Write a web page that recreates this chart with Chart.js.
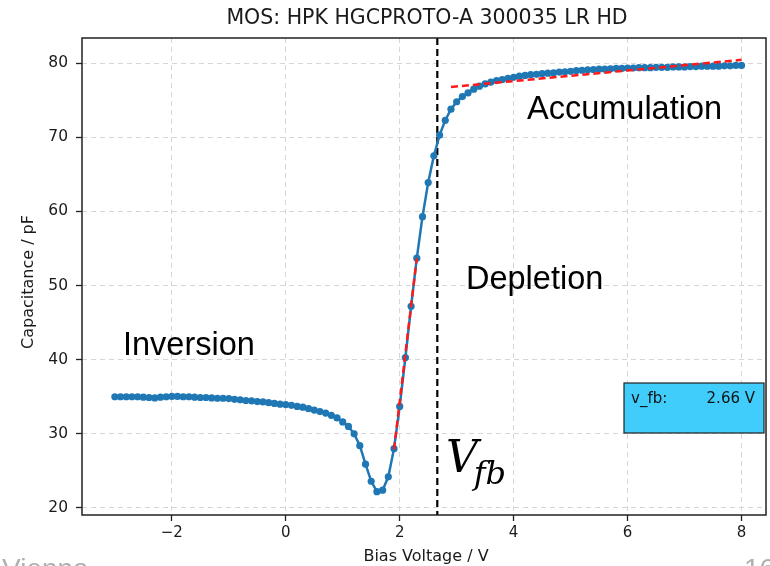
<!DOCTYPE html>
<html>
<head>
<meta charset="utf-8">
<script src="https://cdn.jsdelivr.net/npm/chart.js@4/dist/chart.umd.min.js"></script>
<style>
html, body { margin: 0; padding: 0; background: #fff; overflow: hidden; }
#wrap { width: 770px; height: 566px; }
</style>
</head>
<body>
<div id="wrap"><canvas id="myChart" width="770" height="566"></canvas></div>
<script>
// bias voltage (V) and measured capacitance (pF)
var voltage = [
  -3.0, -2.9, -2.8, -2.7, -2.6, -2.5, -2.4, -2.3, -2.2, -2.1,
  -2.0, -1.9, -1.8, -1.7, -1.6, -1.5, -1.4, -1.3, -1.2, -1.1,
  -1.0, -0.9, -0.8, -0.7, -0.6, -0.5, -0.4, -0.3, -0.2, -0.1,
  0.0, 0.1, 0.2, 0.3, 0.4, 0.5, 0.6, 0.7, 0.8, 0.9,
  1.0, 1.1, 1.2, 1.3, 1.4, 1.5, 1.6, 1.7, 1.8, 1.9,
  2.0, 2.1, 2.2, 2.3, 2.4, 2.5, 2.6, 2.7, 2.8, 2.9,
  3.0, 3.1, 3.2, 3.3, 3.4, 3.5, 3.6, 3.7, 3.8, 3.9,
  4.0, 4.1, 4.2, 4.3, 4.4, 4.5, 4.6, 4.7, 4.8, 4.9,
  5.0, 5.1, 5.2, 5.3, 5.4, 5.5, 5.6, 5.7, 5.8, 5.9,
  6.0, 6.1, 6.2, 6.3, 6.4, 6.5, 6.6, 6.7, 6.8, 6.9,
  7.0, 7.1, 7.2, 7.3, 7.4, 7.5, 7.6, 7.7, 7.8, 7.9,
  8.0
];
var capacitance = [
  35.0, 35.0, 35.0, 35.0, 35.0, 34.95, 34.9, 34.85, 34.95, 35.0,
  35.05, 35.05, 35.0, 35.0, 34.95, 34.9, 34.9, 34.85, 34.8, 34.8,
  34.75, 34.65, 34.6, 34.5, 34.45, 34.35, 34.3, 34.2, 34.1, 34.0,
  33.95, 33.85, 33.7, 33.6, 33.4, 33.2, 33.0, 32.8, 32.5, 32.15,
  31.6, 31.0, 30.0, 28.4, 25.9, 23.6, 22.2, 22.4, 24.2, 28.0,
  33.7, 40.3, 47.2, 53.7, 59.3, 63.9, 67.5, 70.3, 72.3, 73.8,
  74.8, 75.5, 76.0, 76.5, 76.9, 77.2, 77.45, 77.65, 77.8, 77.95,
  78.1, 78.25, 78.35, 78.45, 78.5, 78.6, 78.65, 78.7, 78.8, 78.85,
  78.9, 79.0, 79.05, 79.1, 79.15, 79.2, 79.2, 79.25, 79.3, 79.3,
  79.35, 79.35, 79.4, 79.4, 79.4, 79.45, 79.45, 79.45, 79.5, 79.5,
  79.5, 79.55, 79.55, 79.6, 79.6, 79.6, 79.6, 79.65, 79.65, 79.7,
  79.7
];
// linear fits (depletion slope and accumulation plateau)
var depFitV = [1.9, 2.3];
var depFitC = [27.9, 53.7];
var accFitV = [2.9, 8.0];
var accFitC = [76.8, 80.45];
var vfb = 2.66;
var xTicks = [-2, 0, 2, 4, 6, 8];
var yTicks = [20, 30, 40, 50, 60, 70, 80];

function pts(xs, ys) {
  return xs.map(function(v, i) { return { x: v, y: ys[i] }; });
}
function minus(v) {
  return v < 0 ? '\u2212' + Math.abs(v) : String(v);
}

var overlay = {
  id: 'overlay',
  beforeDatasetsDraw: function(chart) {
    var ctx = chart.ctx, a = chart.chartArea;
    var x = chart.scales.x.getPixelForValue(vfb);
    ctx.save();
    ctx.strokeStyle = '#000';
    ctx.lineWidth = 2.2;
    ctx.setLineDash([7, 4]);
    ctx.beginPath();
    ctx.moveTo(x, a.top);
    ctx.lineTo(x, a.bottom);
    ctx.stroke();
    ctx.restore();
  },
  afterDraw: function(chart) {
    var ctx = chart.ctx, a = chart.chartArea;
    ctx.save();
    // frame
    ctx.strokeStyle = '#222';
    ctx.lineWidth = 1.5;
    ctx.strokeRect(a.left, a.top, a.right - a.left, a.bottom - a.top);

    // title + axis titles
    ctx.fillStyle = '#1a1a1a';
    ctx.textAlign = 'center';
    ctx.textBaseline = 'middle';
    ctx.font = '20.5px "DejaVu Sans"';
    ctx.fillText('MOS: HPK HGCPROTO-A 300035 LR HD', 427, 19);
    ctx.font = '16px "DejaVu Sans"';
    ctx.fillText('Bias Voltage / V', 426, 557);
    ctx.save();
    ctx.translate(29, 282);
    ctx.rotate(-Math.PI / 2);
    ctx.fillText('Capacitance / pF', 0, 0);
    ctx.restore();

    // region labels
    ctx.fillStyle = '#000';
    ctx.textAlign = 'left';
    ctx.textBaseline = 'alphabetic';
    ctx.font = '32.5px "Liberation Sans"';
    ctx.fillText('Inversion', 123, 355);
    ctx.fillText('Depletion', 466, 289);
    ctx.fillText('Accumulation', 527, 119);

    // V_fb label
    ctx.font = 'italic 44px "DejaVu Serif"';
    var vw = ctx.measureText('V').width;
    ctx.fillText('V', 446, 472);
    ctx.font = 'italic 32px "DejaVu Serif"';
    ctx.fillText('fb', 446 + vw - 4, 484);

    // v_fb box
    ctx.fillStyle = '#40cdfb';
    ctx.fillRect(624, 383, 140, 50);
    ctx.strokeStyle = '#222';
    ctx.lineWidth = 1.2;
    ctx.strokeRect(624, 383, 140, 50);
    ctx.fillStyle = '#111';
    ctx.font = '15px "DejaVu Sans"';
    ctx.fillText('v_fb:', 631, 403);
    ctx.textAlign = 'right';
    ctx.fillText('2.66 V', 755, 403);

    // slide footer remnants
    ctx.fillStyle = '#b0b0b0';
    ctx.textAlign = 'left';
    ctx.font = '28px "Liberation Sans"';
    ctx.fillText('Vienna', 2, 578);
    ctx.fillText('16', 744, 578);
    ctx.restore();
  }
};

Chart.defaults.font.family = '"DejaVu Sans"';
Chart.defaults.color = '#1a1a1a';

var ctx = "myChart";
var chart = new Chart(ctx, {
  type: 'line',
  data: {
    datasets: [{
      label: 'fit depletion',
      data: pts(depFitV, depFitC),
      borderColor: '#ff1a1a',
      borderWidth: 2.5,
      borderDash: [7, 4],
      pointRadius: 0,
      fill: false
    }, {
      label: 'fit accumulation',
      data: pts(accFitV, accFitC),
      borderColor: '#ff1a1a',
      borderWidth: 2.5,
      borderDash: [7, 4],
      pointRadius: 0,
      fill: false
    }, {
      label: 'C-V',
      data: pts(voltage, capacitance),
      borderColor: '#1f77b4',
      backgroundColor: '#1f77b4',
      borderWidth: 2.5,
      pointRadius: 3.6,
      pointBorderWidth: 0,
      fill: false
    }]
  },
  options: {
    responsive: false,
    animation: false,
    events: [],
    layout: { padding: { top: 38, right: 2, left: 0, bottom: 0 } },
    plugins: {
      legend: { display: false },
      tooltip: { enabled: false }
    },
    scales: {
      x: {
        type: 'linear',
        min: -3.577,
        max: 8.43,
        afterFit: function(s) { s.height = 51; },
        afterBuildTicks: function(s) { s.ticks = xTicks.map(function(v) { return { value: v }; }); },
        grid: { color: '#d6d6d6', lineWidth: 1, tickLength: 6, tickColor: '#222', tickWidth: 1.3, tickBorderDash: [] },
        border: { display: false, dash: [5, 4] },
        ticks: { font: { size: 15 }, color: '#1a1a1a', padding: 3, maxRotation: 0, callback: function(v) { return minus(v); } }
      },
      y: {
        min: 19.05,
        max: 83.4,
        afterFit: function(s) { s.width = 82; },
        afterBuildTicks: function(s) { s.ticks = yTicks.map(function(v) { return { value: v }; }); },
        grid: { color: '#d6d6d6', lineWidth: 1, tickLength: 6, tickColor: '#222', tickWidth: 1.3, tickBorderDash: [] },
        border: { display: false, dash: [5, 4] },
        ticks: { font: { size: 15.5 }, color: '#1a1a1a', padding: 8, callback: function(v) { return String(v); } }
      }
    }
  },
  plugins: [overlay]
});
</script>
</body>
</html>
